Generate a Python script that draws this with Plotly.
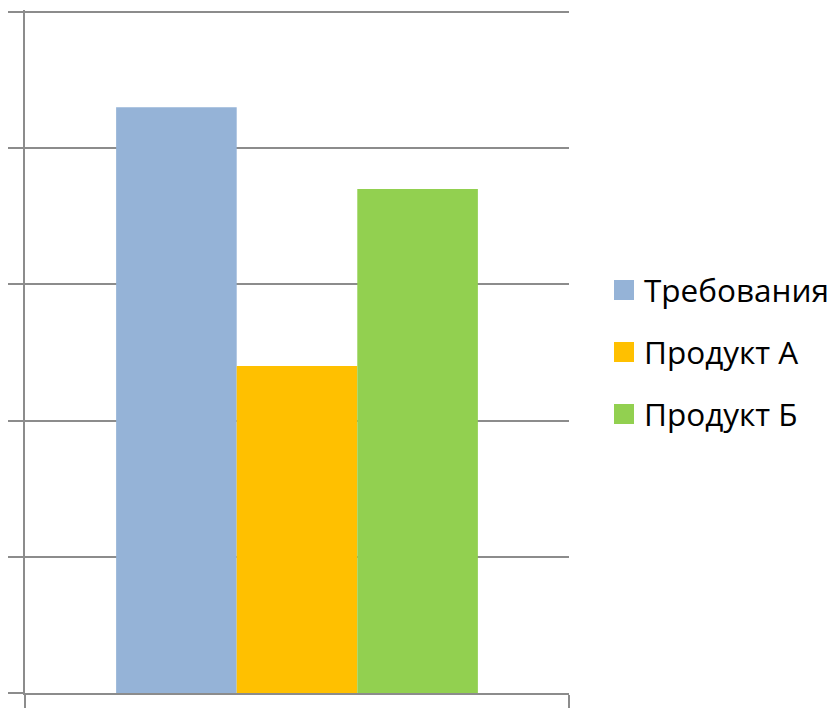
import plotly.graph_objects as go

categories = ["Категория 1"]
series_names = ["Требования", "Продукт А", "Продукт Б"]
series_values = [[4.3], [2.4], [3.7]]
series_colors = ["#95B3D7", "#FFC000", "#92D050"]
y_ticks = [0, 1, 2, 3, 4, 5]

fig = go.Figure()
for name, vals, col in zip(series_names, series_values, series_colors):
    fig.add_trace(go.Bar(x=categories, y=vals, name=name, marker=dict(color=col, line=dict(width=0)),
                         showlegend=False))
# legend entries (bigger square symbols)
for i, (name, col) in enumerate(zip(series_names, series_colors)):
    fig.add_trace(go.Scatter(x=[None], y=[None], mode="markers", name=name, legendgroup=f"g{i}",
                             marker=dict(symbol="square", size=16, color=col, line=dict(color=col, width=4))))

grid_col = "#8c8c8c"
fig.update_layout(
    width=835, height=708,
    margin=dict(l=25, r=266, t=10, b=15, autoexpand=False),
    paper_bgcolor="white", plot_bgcolor="white",
    barmode="group", bargap=0.335, bargroupgap=0,
    font=dict(family="Open Sans, sans-serif", size=31.5, color="black"),
    legend=dict(xref="container", yref="container", x=604/835, xanchor="left",
                y=1-352/708, yanchor="middle", tracegroupgap=18,
                font=dict(family="Open Sans, sans-serif", size=31.5, color="black")),
    showlegend=True,
)
fig.update_xaxes(showline=True, linecolor=grid_col, linewidth=2, showgrid=False, zeroline=False,
                 ticks="outside", tickson="boundaries", ticklen=15, tickwidth=2, tickcolor=grid_col,
                 showticklabels=False, automargin=False)
fig.update_yaxes(range=[0, 5.0147], tickvals=y_ticks, showline=True, linecolor=grid_col, linewidth=2,
                 showgrid=True, gridcolor=grid_col, gridwidth=2, zeroline=False,
                 ticks="outside", ticklen=15, tickwidth=2, tickcolor=grid_col, showticklabels=False,
                 automargin=False)

fig.write_html("out.html")
